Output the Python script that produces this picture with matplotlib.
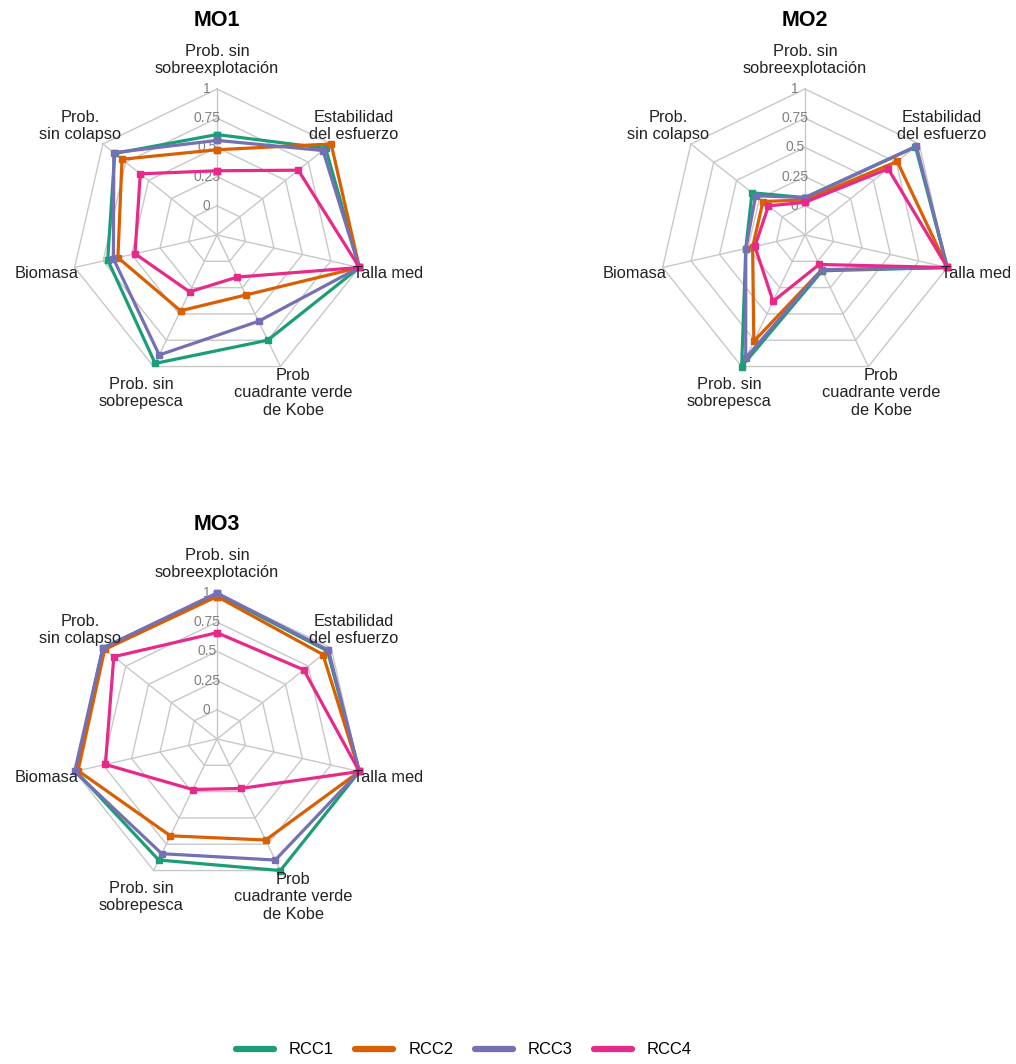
import matplotlib
matplotlib.use("Agg")
import matplotlib.pyplot as plt
import numpy as np

plt.rcParams['font.family'] = ['Liberation Sans', 'DejaVu Sans']

ejes = ["Prob. sin\nsobreexplotación", "Estabilidad\ndel esfuerzo", "Talla med",
        "Prob\ncuadrante verde\nde Kobe", "Prob. sin\nsobrepesca", "Biomasa",
        "Prob.\nsin colapso"]
series = ["RCC1", "RCC2", "RCC3", "RCC4"]
colores = ["#1B9E77", "#D95F02", "#7570B3", "#E7298A"]
niveles = [0, 0.25, 0.5, 0.75, 1]
niveles_txt = ["0", "0.25", "0.5", "0.75", "1"]

# valores por escenario (orden de ejes arriba), uno por serie RCC1..RCC4
mo1 = {
    "RCC1": [0.61, 0.94, 1.00, 0.75, 0.97, 0.71, 0.87],
    "RCC2": [0.48, 1.00, 1.00, 0.32, 0.47, 0.62, 0.79],
    "RCC3": [0.56, 0.91, 1.00, 0.57, 0.89, 0.66, 0.88],
    "RCC4": [0.30, 0.64, 1.00, 0.15, 0.29, 0.47, 0.59],
}
mo2 = {
    "RCC1": [0.07, 0.96, 1.00, 0.09, 1.00, 0.27, 0.33],
    "RCC2": [0.05, 0.76, 1.00, 0.08, 0.76, 0.21, 0.21],
    "RCC3": [0.07, 0.97, 1.00, 0.08, 0.92, 0.27, 0.29],
    "RCC4": [0.03, 0.66, 1.00, 0.03, 0.38, 0.19, 0.15],
}
mo3 = {
    "RCC1": [0.99, 0.96, 1.00, 1.00, 0.90, 0.99, 1.00],
    "RCC2": [0.97, 0.91, 1.00, 0.71, 0.67, 0.97, 0.98],
    "RCC3": [1.00, 0.97, 1.00, 0.90, 0.84, 1.00, 1.00],
    "RCC4": [0.66, 0.70, 1.00, 0.22, 0.23, 0.73, 0.88],
}
titulos = ["MO1", "MO2", "MO3"]
datos = [mo1, mo2, mo3]

W, H = 1016, 1064
fig = plt.figure(figsize=(W / 100, H / 100), dpi=100)

# centros de cada radar (px desde arriba-izquierda) y radio
centros = [(217, 235), (805, 235), (217, 739)]
R = 146
a = 1.5
lado = 2 * a * R

n = len(ejes)
ang = np.pi / 2 - 2 * np.pi * np.arange(n) / n
cx, cy = np.cos(ang), np.sin(ang)

def radio(v):
    # estilo fmsb: el 0 queda en un anillo interior
    return 0.2 + 0.8 * np.asarray(v)

for (px, py), titulo, d in zip(centros, titulos, datos):
    ax = fig.add_axes([(px - lado / 2) / W, (H - py - lado / 2) / H, lado / W, lado / H])
    ax.set_xlim(-a, a)
    ax.set_ylim(-a, a)
    ax.axis("off")

    for nv in niveles:
        r = radio(nv)
        ax.plot(np.append(cx, cx[0]) * r, np.append(cy, cy[0]) * r,
                color="#C8C8C8", lw=1, zorder=1)
    for i in range(n):
        ax.plot([0, cx[i]], [0, cy[i]], color="#C8C8C8", lw=1, zorder=1)

    for nv, t in zip(niveles, niveles_txt):
        ax.text(-0.07, radio(nv), t, ha="center", va="center",
                fontsize=10, color="#808080", zorder=2)

    for s, col in zip(series, colores):
        r = radio(d[s])
        ax.plot(np.append(cx * r, cx[0] * r[0]), np.append(cy * r, cy[0] * r[0]),
                color=col, lw=2.3, marker="s", markersize=4.5, zorder=3)

    for i, lab in enumerate(ejes):
        ax.text(cx[i] * 1.2, cy[i] * 1.2, lab, ha="center", va="center",
                fontsize=11.8, color="#222222", linespacing=1.2, zorder=4)

    ax.text(0, 1.47, titulo, ha="center", va="center", fontsize=15.5,
            fontweight="bold", color="black")

handles = [plt.Line2D([], [], color=c, lw=4.5, solid_capstyle="round") for c in colores]
fig.legend(handles, series, loc="center", bbox_to_anchor=(464 / W, 1 - 1050 / H),
           ncol=4, frameon=False, fontsize=11.9, handlelength=2.3,
           handletextpad=0.9, columnspacing=1.3)

fig.savefig("out.png", dpi=100, facecolor="white")
